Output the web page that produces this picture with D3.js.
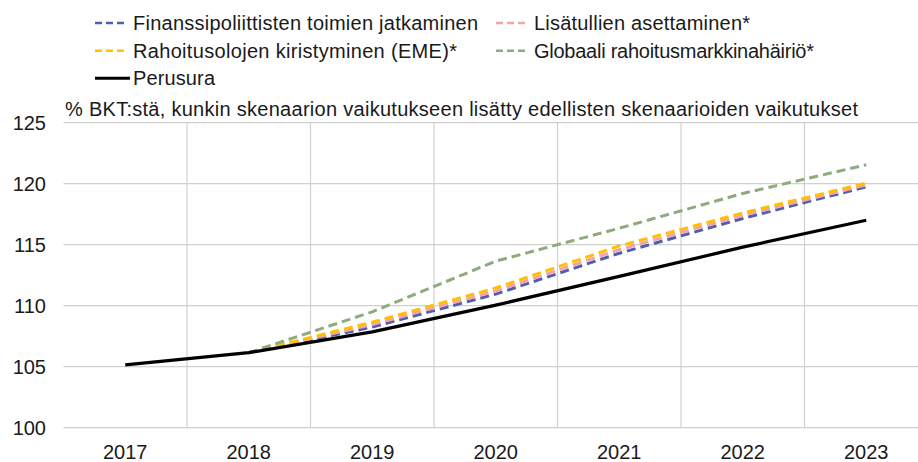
<!DOCTYPE html>
<html><head><meta charset="utf-8">
<script src="https://cdn.jsdelivr.net/npm/d3@7/dist/d3.min.js"></script>
<style>
body{margin:0;background:#fff;}
text{font-family:"Liberation Sans",Arial,sans-serif;fill:#1a1a1a;}
</style></head><body>
<svg id="c" width="918" height="462"></svg>
<script>
const years = ["2017","2018","2019","2020","2021","2022","2023"];
const yTicks = [100,105,110,115,120,125];
const perusura   = [105.15,106.15,107.85,110.05,112.4,114.8,117.0];
const finanssi   = [null,106.15,108.25,110.95,114.3,117.15,119.75];
const lisatullit = [null,106.15,108.45,111.2,114.6,117.4,119.9];
const rahoitus   = [null,106.15,108.65,111.45,114.9,117.6,120.05];
const globaali   = [null,106.15,109.5,113.65,116.35,119.2,121.55];
const title = "% BKT:stä, kunkin skenaarion vaikutukseen lisätty edellisten skenaarioiden vaikutukset";

const series = [
  {name:"Finanssipoliittisten toimien jatkaminen", values:finanssi, color:"#4f5fae", dash:true},
  {name:"Lisätullien asettaminen*", values:lisatullit, color:"#f4a3aa", dash:true},
  {name:"Rahoitusolojen kiristyminen (EME)*", values:rahoitus, color:"#ffc000", dash:true},
  {name:"Globaali rahoitusmarkkinahäiriö*", values:globaali, color:"#8faa7c", dash:true},
  {name:"Perusura", values:perusura, color:"#000000", dash:false}
];

const svg = d3.select("#c");
const left = 63.5, bandW = 123.5;
const x = d3.scaleBand().domain(years).range([left, left + bandW*years.length]);
const y = d3.scaleLinear().domain([100,125]).range([427.7,122.7]);

const g = svg.append("g");
g.selectAll("line.h").data(yTicks).enter().append("line")
  .attr("x1", left).attr("x2", 918)
  .attr("y1", d=>y(d)).attr("y2", d=>y(d))
  .attr("stroke", "#d0d0d0").attr("stroke-width", 1.2);
g.selectAll("line.v").data(years.slice(1)).enter().append("line")
  .attr("x1", d=>x(d)).attr("x2", d=>x(d))
  .attr("y1", y(125)).attr("y2", y(100))
  .attr("stroke", "#d0d0d0").attr("stroke-width", 1.2);

g.selectAll("text.y").data(yTicks).enter().append("text")
  .attr("x", 46).attr("y", d=>y(d)).attr("dy", "0.35em")
  .attr("text-anchor", "end").attr("font-size", 20).text(d=>d);
g.selectAll("text.x").data(years).enter().append("text")
  .attr("x", d=>x(d)+x.bandwidth()/2).attr("y", 452)
  .attr("dy","0.35em")
  .attr("text-anchor", "middle").attr("font-size", 20).text(d=>d);

svg.append("text").attr("x", 65).attr("y", 116).attr("font-size", 20)
  .attr("textLength", 793).attr("lengthAdjust","spacing").text(title);

const line = d3.line()
  .defined(d=>d.v!=null)
  .x(d=>x(d.yr)+x.bandwidth()/2).y(d=>y(d.v));

series.forEach(s=>{
  const pts = years.map((yr,i)=>({yr, v:s.values[i]}));
  g.append("path").datum(pts)
    .attr("d", line)
    .attr("fill","none")
    .attr("stroke", s.color)
    .attr("stroke-width", s.dash?3:3.2)
    .attr("stroke-dasharray", s.dash?"9,5":null)
    .attr("stroke-linejoin","round");
});

const leg = [
  {s:series[0], x:95, y:23, w:345},
  {s:series[1], x:496, y:23, w:216},
  {s:series[2], x:95, y:50.7, w:324},
  {s:series[3], x:496, y:50.7, w:280},
  {s:series[4], x:95, y:78.3, w:82}
];
leg.forEach(l=>{
  svg.append("line").attr("x1", l.x).attr("x2", l.x + (l.s.dash?31:35))
    .attr("y1", l.y).attr("y2", l.y)
    .attr("stroke", l.s.color).attr("stroke-width", l.s.dash?2.5:3)
    .attr("stroke-dasharray", l.s.dash?"7,4":null);
  svg.append("text").attr("x", l.x+38).attr("y", l.y).attr("dy","0.35em")
    .attr("font-size", 20).attr("textLength", l.w).attr("lengthAdjust","spacing")
    .text(l.s.name);
});
</script>
</body></html>
